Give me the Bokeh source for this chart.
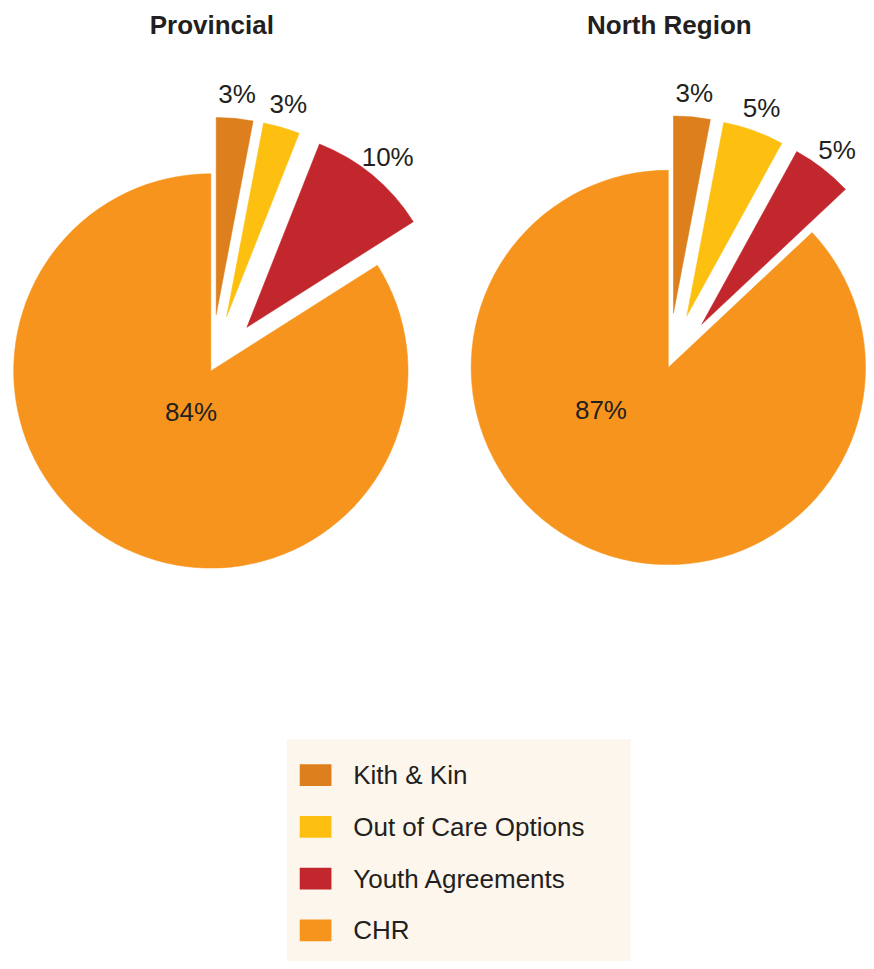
import numpy as np
from bokeh.plotting import figure
from bokeh.models import Range1d, ColumnDataSource
from bokeh.embed import file_html
from bokeh.resources import INLINE
from bokeh.core.properties import value

# ---------------- data ----------------
categories = ["Kith & Kin", "Out of Care Options", "Youth Agreements", "CHR"]
colors = ["#dc7f1c", "#fdc010", "#c1272d", "#f7941d"]
chart_titles = ["Provincial", "North Region"]
provincial_values = [3, 3, 10, 84]
north_values = [3, 5, 5, 87]
series = [provincial_values, north_values]

# ---------------- layout / style ----------------
W, H = 866, 961
REF_W, REF_H = 874, 969
FONT = "Liberation Sans"
TXT = "#231f20"
R = 199
centers = [(212.3, 373.5), (674.0, 370.0)]      # reference px
explode_dist = [57, 55]
explode_mask = [1, 1, 1, 0]
outer_label_gap = 24
inner_label_offset = [(-20, 41), (-68, 43)]     # reference px from centre


def sy(y):
    return REF_H - y


p = figure(width=W, height=H, x_range=Range1d(0, REF_W), y_range=Range1d(0, REF_H),
           output_backend="svg", toolbar_location=None, min_border=0,
           x_axis_location=None, y_axis_location=None)
p.grid.visible = False
p.outline_line_color = None
p.background_fill_color = "white"
p.border_fill_color = "white"

for k, vals in enumerate(series):
    vals = np.array(vals, dtype=float)
    frac = vals / vals.sum()
    th2 = np.cumsum(frac) * 2 * np.pi          # clockwise from 12 o'clock
    th1 = th2 - frac * 2 * np.pi
    mid = (th1 + th2) / 2
    cx, cy = centers[k][0], sy(centers[k][1])
    d = explode_dist[k] * np.array(explode_mask)
    ax = cx + d * np.sin(mid)
    ay = cy + d * np.cos(mid)
    src = ColumnDataSource(dict(x=ax, y=ay, start=np.pi / 2 - th2, end=np.pi / 2 - th1,
                                color=colors))
    p.wedge(x="x", y="y", radius=R, start_angle="start", end_angle="end",
            fill_color="color", line_color="color", line_width=0.5, source=src)

    labels = [f"{int(v)}%" for v in vals]
    lx, ly = [], []
    for i in range(len(vals)):
        if explode_mask[i]:
            L = R + outer_label_gap
            lx.append(ax[i] + L * np.sin(mid[i]))
            ly.append(ay[i] + L * np.cos(mid[i]))
        else:
            lx.append(cx + inner_label_offset[k][0])
            ly.append(cy - inner_label_offset[k][1])
    p.text(x=lx, y=ly, text=labels, text_font=value(FONT), text_font_size="26px",
           text_color=TXT, text_align="center", text_baseline="middle")

    # title
    p.text(x=[cx + 1], y=[sy(25)], text=[chart_titles[k]], text_font=value(FONT),
           text_font_size="26px", text_font_style="bold", text_color=TXT,
           text_align="center", text_baseline="middle")

# ---------------- legend ----------------
lg_left, lg_right, lg_top, lg_bottom = 289, 636, 745, 969
p.rect(x=[(lg_left + lg_right) / 2], y=[sy((lg_top + lg_bottom) / 2)],
       width=lg_right - lg_left, height=lg_bottom - lg_top,
       fill_color="#fdf6ec", line_color=None)
row_y = [sy(781 + 52.2 * i) for i in range(len(categories))]
p.rect(x=[318] * len(categories), y=row_y, width=32, height=22,
       fill_color=colors, line_color=None)
p.text(x=[356] * len(categories), y=row_y, text=categories, text_font=value(FONT),
       text_font_size="26px", text_color=TXT, text_align="left", text_baseline="middle")

open("out.html", "w").write(file_html(p, INLINE))
